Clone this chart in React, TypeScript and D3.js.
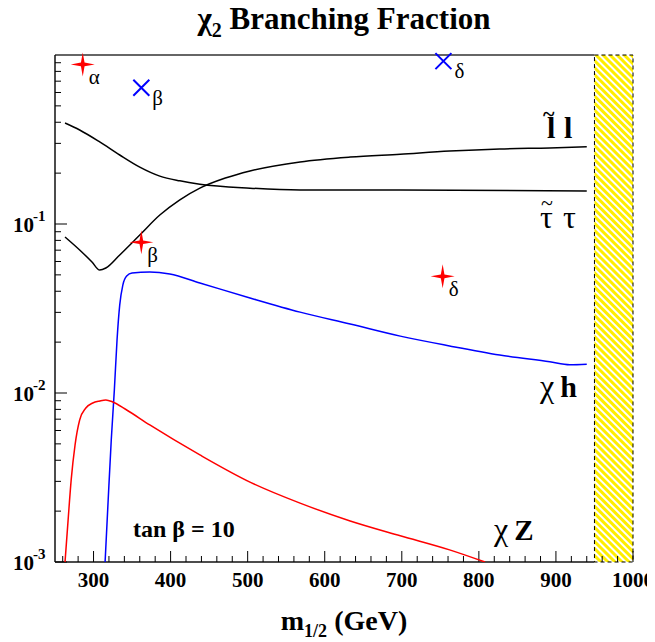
import React from "react";
import * as d3 from "d3";

// ---- data ----
const sleptonMass = [263, 282, 298, 308, 316, 334, 360, 386, 412, 438, 471, 503, 568, 633, 698, 762, 827, 892, 940];
const sleptonBF = [0.0838, 0.0702, 0.0596, 0.0534, 0.0549, 0.0656, 0.0861, 0.113, 0.139, 0.163, 0.187, 0.206, 0.233, 0.249, 0.259, 0.270, 0.278, 0.282, 0.286];

const stauMass = [263, 282, 308, 334, 360, 386, 412, 438, 503, 568, 698, 940];
const stauBF = [0.396, 0.360, 0.306, 0.256, 0.217, 0.192, 0.180, 0.172, 0.163, 0.159, 0.159, 0.157];

const higgsMass = [315, 319, 323, 327, 330.5, 334, 338, 343, 350, 373, 399, 438, 503, 568, 633, 698, 762, 827, 892, 918, 940];
const higgsBF = [0.001, 0.00233, 0.00527, 0.0104, 0.0206, 0.0332, 0.0435, 0.0492, 0.0513, 0.052, 0.0506, 0.0448, 0.0365, 0.0301, 0.0256, 0.0217, 0.019, 0.0168, 0.0153, 0.0147, 0.0148];

const zMass = [263, 267, 271, 276, 282, 290, 299, 308, 316, 325, 341, 373, 438, 503, 568, 633, 698, 762, 808];
const zBF = [0.001, 0.00177, 0.00306, 0.00492, 0.00692, 0.00815, 0.00873, 0.00897, 0.0091, 0.00885, 0.00804, 0.00647, 0.0043, 0.00297, 0.00223, 0.00175, 0.00143, 0.00118, 0.001];

const starPoints = [
  { m: 286, v: 0.88, label: "α" },
  { m: 362, v: 0.078, label: "β" },
  { m: 753, v: 0.049, label: "δ" },
];
const crossPoints = [
  { m: 362, v: 0.64, label: "β" },
  { m: 754, v: 0.92, label: "δ" },
];

const xMajorTicks = [300, 400, 500, 600, 700, 800, 900, 1000];
const yDecades = [-3, -2, -1];
const excludedFrom = 950;

const W = 655;
const H = 642;
const OFF = 8; // default body margin
const L = 55, R = 633, T = 55, B = 562;
const SERIF = '"Liberation Serif", Tinos, "Nimbus Roman", FreeSerif, "Times New Roman", Times, serif';

export default function App() {
  const x = d3.scaleLinear().domain([250, 1000]).range([L, R]);
  const y = d3.scaleLog().domain([1e-3, 1]).range([B, T]);

  const line = (ms: number[], vs: number[]) =>
    d3
      .line<number>()
      .x((_, i) => x(ms[i]))
      .y((_, i) => y(Math.max(vs[i], 1e-3)))
      .curve(d3.curveMonotoneX)(vs) || "";

  const minorX: number[] = d3.range(260, 1001, 20).filter((v) => v % 100 !== 0);
  const minorY: number[] = [];
  yDecades.forEach((d) => {
    for (let k = 2; k <= 9; k++) minorY.push(k * Math.pow(10, d));
  });

  const hx = x(excludedFrom);
  const star = "M0,-12 L1.8,-1.8 L12,0 L1.8,1.8 L0,12 L-1.8,1.8 L-12,0 L-1.8,-1.8 Z";

  return (
    <svg width={W - OFF} height={H - OFF} className="bfchart" fontFamily={SERIF}>
      <style>{`.bfchart text, .bfchart tspan { font-family: ${SERIF} !important; }`}</style>
      <defs>
        <pattern id="hatch" patternUnits="userSpaceOnUse" width="5" height="5" patternTransform="rotate(-45)">
          <rect width="5" height="5" fill="white" />
          <line x1="2.5" y1="-1" x2="2.5" y2="6" stroke="#ffee00" strokeWidth="3" />
        </pattern>
        <clipPath id="plotclip">
          <rect x={L} y={T} width={R - L} height={B - T} />
        </clipPath>
      </defs>
      <g transform={`translate(${-OFF},${-OFF})`}>
        <rect width={W} height={H} fill="white" />

        {/* title */}
        <text x={344} y={29} textAnchor="middle" fontWeight="bold" fontSize={31}>
          <tspan>χ</tspan>
          <tspan fontSize={20} dy={8}>2</tspan>
          <tspan dy={-8}> Branching Fraction</tspan>
        </text>

        {/* excluded region */}
        <rect x={hx} y={T} width={R - hx} height={B - T} fill="url(#hatch)" stroke="black" strokeWidth={1} strokeDasharray="4,3" />

        {/* frame */}
        <line x1={L} y1={T} x2={hx} y2={T} stroke="#333" strokeWidth={1.5} />
        <line x1={L} y1={B} x2={hx} y2={B} stroke="#111" strokeWidth={1.5} />
        <line x1={L} y1={T} x2={L} y2={B} stroke="#111" strokeWidth={1.5} />

        {/* x ticks */}
        {xMajorTicks.map((t) => (
          <g key={"xm" + t}>
            <line x1={x(t)} x2={x(t)} y1={B} y2={B - 11} stroke="black" strokeWidth={1} />
            <text x={x(t)} y={587} textAnchor="middle" fontWeight="bold" fontSize={21}>{t}</text>
          </g>
        ))}
        {minorX.map((t) => (
          <line key={"xn" + t} x1={x(t)} x2={x(t)} y1={B} y2={B - 6} stroke="black" strokeWidth={1} />
        ))}

        {/* y ticks */}
        {yDecades.map((d) => {
          const yy = y(Math.pow(10, d));
          return (
            <g key={"yd" + d}>
              <line x1={L} x2={L + 12} y1={yy} y2={yy} stroke="black" strokeWidth={1} />
              <text x={34} y={yy + 8} textAnchor="end" fontWeight="bold" fontSize={21}>10</text>
              <text x={33} y={yy - 3} fontWeight="bold" fontSize={15}>{String(d)}</text>
            </g>
          );
        })}
        {minorY.map((v, i) => (
          <line key={"yn" + i} x1={L} x2={L + 6} y1={y(v)} y2={y(v)} stroke="black" strokeWidth={1} />
        ))}

        {/* curves */}
        <g clipPath="url(#plotclip)" fill="none" strokeWidth={1.5}>
          <path d={line(sleptonMass, sleptonBF)} stroke="black" />
          <path d={line(stauMass, stauBF)} stroke="black" />
          <path d={line(higgsMass, higgsBF)} stroke="#0000ff" />
          <path d={line(zMass, zBF)} stroke="#ff0000" />
        </g>

        {/* markers */}
        {starPoints.map((p, i) => (
          <g key={"s" + i}>
            <path d={star} transform={`translate(${x(p.m)},${y(p.v)})`} fill="#ff0000" />
            <text x={x(p.m) + 6} y={y(p.v) + 20} fontSize={21}>{p.label}</text>
          </g>
        ))}
        {crossPoints.map((p, i) => (
          <g key={"c" + i}>
            <path
              d="M-8,-8 L8,8 M-8,8 L8,-8"
              transform={`translate(${x(p.m)},${y(p.v)})`}
              stroke="#0000ff"
              strokeWidth={2}
            />
            <text x={x(p.m) + 11} y={y(p.v) + 17} fontSize={21}>{p.label}</text>
          </g>
        ))}

        {/* curve labels */}
        <g>
          <text x={547} y={138} fontWeight="bold" fontSize={30}>l</text>
          <text x={543} y={121} fontWeight="bold" fontSize={22}>~</text>
          <text x={564} y={138} fontWeight="bold" fontSize={30}>l</text>
        </g>
        <g>
          <text x={540} y={228} fontSize={32}>τ</text>
          <text x={541} y={210} fontSize={22}>~</text>
          <text x={563} y={228} fontSize={32}>τ</text>
        </g>
        <text x={540} y={397} fontSize={32}>
          <tspan>χ</tspan>
          <tspan fontWeight="bold" dx={6} fontSize={30}>h</tspan>
        </text>
        <text x={494} y={540} fontSize={32}>
          <tspan>χ</tspan>
          <tspan fontWeight="bold" dx={6} fontSize={29}>Z</tspan>
        </text>
        <text x={133} y={537} fontWeight="bold" fontSize={24}>
          tan  β = 10
        </text>

        {/* x axis title */}
        <text x={344} y={630} textAnchor="middle" fontWeight="bold" fontSize={28}>
          <tspan>m</tspan>
          <tspan fontSize={18} dy={7}>1/2</tspan>
          <tspan dy={-7}> (GeV)</tspan>
        </text>
      </g>
    </svg>
  );
}
